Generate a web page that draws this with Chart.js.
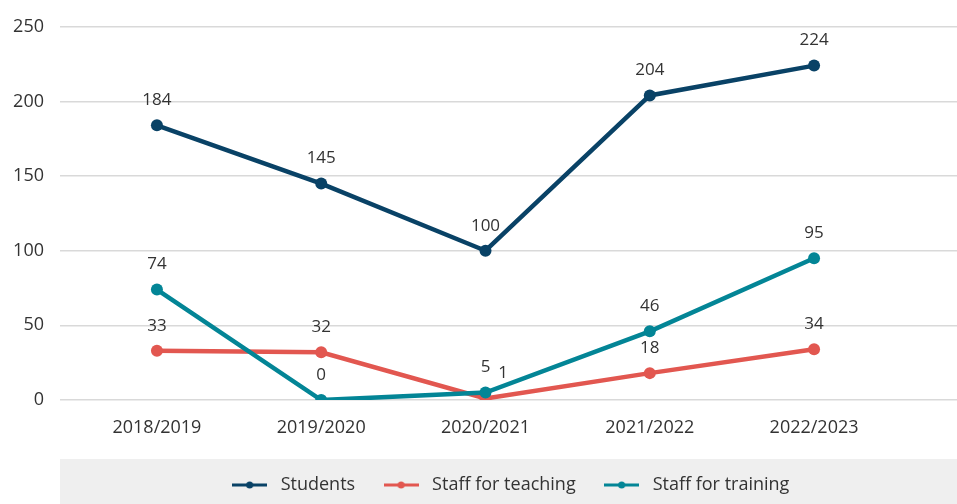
<!DOCTYPE html>
<html>
<head>
<meta charset="utf-8">
<script src="https://cdn.jsdelivr.net/npm/chart.js@4/dist/chart.umd.min.js"></script>
<style>
  html, body { margin: 0; padding: 0; background: #ffffff; }
  #wrap { width: 957px; height: 504px; position: relative; }
</style>
</head>
<body>
<div id="wrap"><canvas id="chart"></canvas></div>
<script>
// Academic years and yearly counts
const years = ['2018/2019', '2019/2020', '2020/2021', '2021/2022', '2022/2023'];
const students = [184, 145, 100, 204, 224];
const staffTeaching = [33, 32, 1, 18, 34];
const staffTraining = [74, 0, 5, 46, 95];
const yTicks = [0, 50, 100, 150, 200, 250];

const seriesNames = ['Students', 'Staff for teaching', 'Staff for training'];
const colors = ['#094266', '#e25750', '#038596'];
const FONT = "'Open Sans', 'Liberation Sans', sans-serif";

// Small "line with dot" glyph used in the legend
function legendMarker(color) {
  const c = document.createElement('canvas');
  c.width = 35; c.height = 10;
  const g = c.getContext('2d');
  g.strokeStyle = color; g.lineWidth = 3;
  g.beginPath(); g.moveTo(0, 5); g.lineTo(35, 5); g.stroke();
  g.fillStyle = color;
  g.beginPath(); g.arc(17.5, 5, 3.5, 0, Math.PI * 2); g.fill();
  return c;
}
const markers = colors.map(legendMarker);

const toPoints = arr => arr.map((v, i) => ({ x: i, y: v }));

function lineSet(i, values, order) {
  return {
    label: seriesNames[i],
    data: toPoints(values),
    borderColor: colors[i],
    backgroundColor: colors[i],
    pointBackgroundColor: colors[i],
    pointBorderWidth: 0,
    pointRadius: 6,
    borderWidth: 4.5,
    tension: 0,
    order: order
  };
}

// Grey band behind the legend
const legendBand = {
  id: 'legendBand',
  beforeDraw(chart) {
    const ctx = chart.ctx;
    ctx.save();
    ctx.fillStyle = '#efefef';
    ctx.fillRect(chart.chartArea.left, chart.height - 45, chart.width - chart.chartArea.left, 45);
    ctx.restore();
  },
  afterLayout(chart) {
    // centre legend items over the band
    chart.legend.left = chart.chartArea.left;
    chart.legend.right = chart.width;
  }
};

// Value labels above each point; labels that would collide are nudged right
const valueLabels = {
  id: 'valueLabels',
  afterDatasetsDraw(chart) {
    const ctx = chart.ctx;
    ctx.save();
    ctx.font = '17px ' + FONT;
    ctx.fillStyle = '#333333';
    ctx.textAlign = 'center';
    ctx.textBaseline = 'middle';
    const placed = [];
    const drawOrder = [0, 2, 1];
    drawOrder.forEach(di => {
      const meta = chart.getDatasetMeta(di);
      const ds = chart.data.datasets[di];
      meta.data.forEach((pt, j) => {
        const text = String(ds.data[j].y);
        const w = ctx.measureText(text).width;
        const h = 16;
        let x = pt.x, y = pt.y - 25;
        let moved = true;
        while (moved) {
          moved = false;
          for (const b of placed) {
            if (Math.abs(x - b.x) < (w + b.w) / 2 + 2 && Math.abs(y - b.y) < (h + b.h) / 2) {
              x = b.x + b.w / 2 + w / 2 + 8;
              moved = true;
            }
          }
        }
        placed.push({ x, y, w, h });
        ctx.fillText(text, x, y);
      });
    });
    ctx.restore();
  }
};

new Chart(document.getElementById('chart'), {
  type: 'line',
  data: {
    datasets: [
      lineSet(0, students, 0),
      lineSet(1, staffTeaching, 2),
      lineSet(2, staffTraining, 1)
    ]
  },
  options: {
    responsive: true,
    maintainAspectRatio: false,
    animation: false,
    layout: { autoPadding: false, padding: { top: 25, left: 0, right: 0, bottom: 0 } },
    scales: {
      x: {
        type: 'linear',
        min: -0.59,
        max: 4.87,
        afterBuildTicks(scale) { scale.ticks = years.map((_, i) => ({ value: i })); },
        afterFit(scale) { scale.height = 52; },
        grid: { display: false, drawTicks: false },
        border: { display: false },
        ticks: {
          autoSkip: false,
          maxRotation: 0,
          padding: 17,
          color: '#333333',
          font: { family: FONT, size: 18 },
          callback: v => years[v]
        }
      },
      y: {
        min: 0,
        max: 250,
        afterBuildTicks(scale) { scale.ticks = yTicks.map(v => ({ value: v })); },
        afterFit(scale) { scale.width = 60; },
        grid: { color: '#d9d9d9', lineWidth: 1.5, drawTicks: false },
        border: { display: false },
        ticks: {
          padding: 16,
          color: '#333333',
          font: { family: FONT, size: 18 }
        }
      }
    },
    plugins: {
      tooltip: { enabled: false },
      legend: {
        position: 'bottom',
        labels: {
          usePointStyle: true,
          pointStyleWidth: 44,
          padding: 24,
          color: '#333333',
          font: { family: FONT, size: 18 },
          generateLabels(chart) {
            return chart.data.datasets.map((ds, i) => ({
              text: ds.label,
              pointStyle: markers[i],
              fillStyle: ds.borderColor,
              strokeStyle: ds.borderColor,
              lineWidth: 0,
              hidden: false,
              datasetIndex: i,
              fontColor: '#333333'
            }));
          }
        }
      }
    }
  },
  plugins: [legendBand, valueLabels]
});
</script>
</body>
</html>
